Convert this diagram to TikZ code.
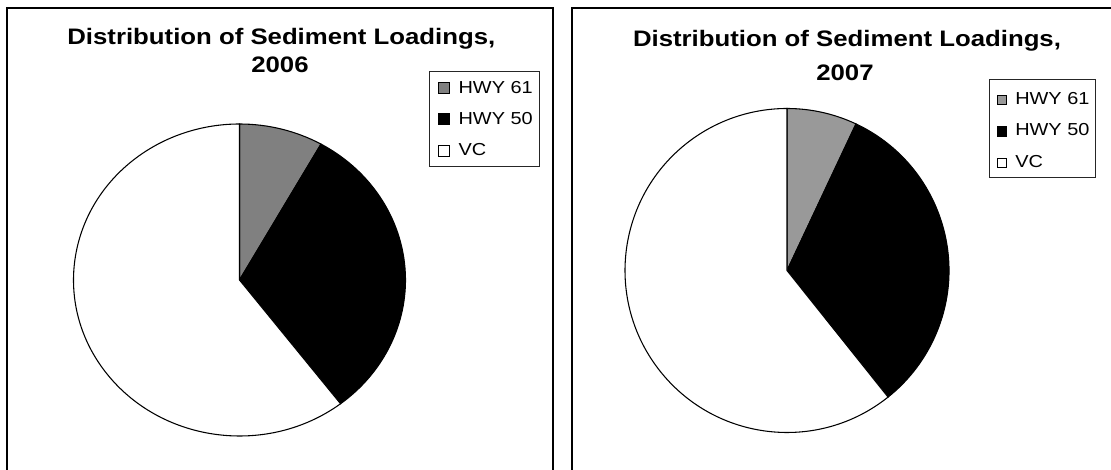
\documentclass[tikz,border=0pt]{standalone}
\usepackage{fontspec}
\setmainfont{Liberation Sans}[FakeStretch=1.15]
\usetikzlibrary{positioning,calc}
\definecolor{loadGraySix}{HTML}{808080}
\definecolor{loadGraySeven}{HTML}{999999}

\begin{document}
\begin{tikzpicture}[x=0.75pt,y=0.75pt]
    \tikzset{
      panelframe/.style={draw=black, line width=1.5pt},
      slice/.style={draw=black, line width=0.8pt},
      ptitle/.style={font=\fontsize{16.8}{20}\selectfont\bfseries, anchor=base, inner sep=0pt},
      lbox/.style={draw=black!85, line width=0.75pt, fill=white},
      lkey/.style={draw=black, line width=0.6pt, inner sep=0pt},
      ltext/.style={font=\fontsize{13}{15}\selectfont, anchor=base west, inner sep=0pt}
    }
    \useasboundingbox (0,0) rectangle (1111,470);
    \clip (0,0) rectangle (1111,470);
    \fill[white] (0,0) rectangle (1111,470);

    % Panels
    \draw[panelframe] (7.3,-10) -- (7.3,461.7) -- (553.3,461.7) -- (553.3,-10);
    \draw[panelframe] (571.7,-10) -- (571.7,461.7) -- (1125,461.7);

    % 2006: HWY 61, HWY 50, VC
    \node[ptitle] (title6a) at (281.3,425) {Distribution of Sediment Loadings,};
    \node[ptitle] (title6b) at (280,397) {2006};
    \coordinate (c6) at (239.5,190);
    \draw[slice, fill=loadGraySix] (c6) -- ++(90:166 and 156)
      arc[start angle=90, end angle=60.6, x radius=166, y radius=156] -- cycle;
    \draw[slice, fill=black] (c6) -- ++(60.6:166 and 156)
      arc[start angle=60.6, end angle=-52.5, x radius=166, y radius=156] -- cycle;
    \draw[slice, fill=white] (c6) -- ++(-52.5:166 and 156)
      arc[start angle=-52.5, end angle=-270, x radius=166, y radius=156] -- cycle;

    % Legend 2006
    \draw[lbox] (429.7,303.3) rectangle (539.3,398.3);
    \foreach \yy/\col/\lab/\nm in {376.7/loadGraySix/HWY 61/a, 345.7/black/HWY 50/b, 314/white/VC/c} {
      \node[lkey, fill=\col, minimum size=8pt] (key6\nm) at (443.8,\yy+5.3) {};
      \node[ltext] (lab6\nm) at (458.3,\yy) {\lab};
    }

    % 2007: HWY 61, HWY 50, VC
    \node[ptitle] (title7a) at (847,423) {Distribution of Sediment Loadings,};
    \node[ptitle] (title7b) at (845,389) {2007};
    \coordinate (c7) at (787,199.5);
    \draw[slice, fill=loadGraySeven] (c7) -- ++(90:162)
      arc[start angle=90, end angle=64.8, radius=162] -- cycle;
    \draw[slice, fill=black] (c7) -- ++(64.8:162)
      arc[start angle=64.8, end angle=-51.4, radius=162] -- cycle;
    \draw[slice, fill=white] (c7) -- ++(-51.4:162)
      arc[start angle=-51.4, end angle=-270, radius=162] -- cycle;

    % Legend 2007
    \draw[lbox] (989,292.3) rectangle (1095.7,390.7);
    \foreach \yy/\col/\lab/\nm in {365.7/loadGraySeven/HWY 61/a, 334/black/HWY 50/b, 302.3/white/VC/c} {
      \node[lkey, fill=\col, minimum size=7pt] (key7\nm) at (1002,\yy+4.7) {};
      \node[ltext] (lab7\nm) at (1015,\yy) {\lab};
    }
  \end{tikzpicture}
\end{document}
